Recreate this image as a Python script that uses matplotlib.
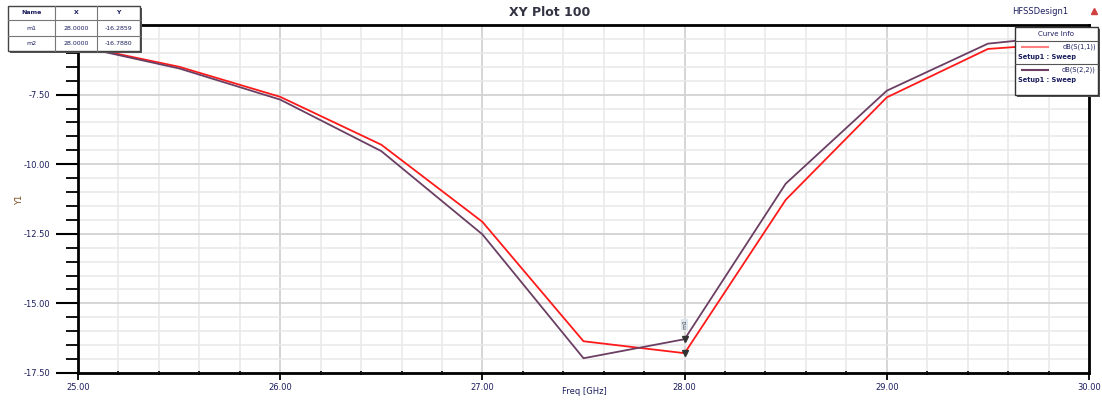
import matplotlib
matplotlib.use("Agg")
import matplotlib.pyplot as plt
from matplotlib.patches import Rectangle
from matplotlib.lines import Line2D
from matplotlib.ticker import MultipleLocator, FormatStrFormatter

# ---- data ----
freq = [25.0, 25.5, 26.0, 26.5, 27.0, 27.5, 28.0, 28.5, 29.0, 29.5, 30.0]
s11 = [-5.74, -6.50, -7.58, -9.30, -12.07, -16.36, -16.788, -11.28, -7.60, -5.86, -5.60]
s22 = [-5.76, -6.56, -7.68, -9.53, -12.52, -16.97, -16.2859, -10.70, -7.36, -5.67, -5.30]
series_names = ["dB(S(1,1))", "dB(S(2,2))"]
setup_label = "Setup1 : Sweep"
marker_names = ["m1", "m2"]
marker_x = [28.0, 28.0]
marker_y = [-16.2859, -16.7880]
title = "XY Plot 100"
design = "HFSSDesign1"
xlabel = "Freq [GHz]"
ylabel = "Y1"

red = "#ff1a1a"
purple = "#6b3f63"
navy = "#1c1f5e"

W, H = 1102, 401
fig = plt.figure(figsize=(W / 100, H / 100), dpi=100)
ax = fig.add_axes([78 / W, 1 - 373 / H, (1089 - 78) / W, (373 - 25) / H])

ax.plot(freq, s11, color=red, lw=1.3, zorder=3)
ax.plot(freq, s22, color=purple, lw=1.3, zorder=3)

ax.set_xlim(25, 30)
ax.set_ylim(-17.5, -5.0)
ax.xaxis.set_major_locator(MultipleLocator(1.0))
ax.xaxis.set_minor_locator(MultipleLocator(0.2))
ax.yaxis.set_major_locator(MultipleLocator(2.5))
ax.yaxis.set_minor_locator(MultipleLocator(0.5))
ax.xaxis.set_major_formatter(FormatStrFormatter("%.2f"))
ax.yaxis.set_major_formatter(FormatStrFormatter("%.2f"))
ax.grid(which="major", color="#d2d2d2", lw=1.3)
ax.grid(which="minor", color="#e8e8e8", lw=1.1)
ax.set_axisbelow(True)
ax.tick_params(axis="y", which="major", length=16, width=1.5, direction="out",
               labelsize=6, labelcolor=navy, pad=4)
ax.tick_params(axis="y", which="minor", length=9, width=1.3, direction="out")
ax.tick_params(axis="x", which="major", length=5, width=1.3, direction="out",
               labelsize=6, labelcolor=navy, pad=2)
ax.tick_params(axis="x", which="minor", length=3, width=1.2, direction="inout")
ax.set_yticks([-17.5, -15.0, -12.5, -10.0, -7.5])
for s in ax.spines.values():
    s.set_linewidth(2.0)
    s.set_color("black")

fig.text(20 / W, 1 - 200 / H, ylabel, fontsize=6, color="#7a4a1a", rotation=90,
         ha="center", va="center")
fig.text(550 / W, 1 - 12 / H, title, fontsize=9, fontweight="bold", color="#333344",
         ha="center", va="center")

# markers
for name, mx, my in zip(marker_names, marker_x, marker_y):
    ax.plot([mx], [my], marker="v", ms=4, color="#333333", zorder=5)
ax.text(28.0, -15.75, marker_names[0], fontsize=4.5, rotation=90, ha="center",
        va="center", color="#444444", zorder=6,
        bbox=dict(boxstyle="square,pad=0.1", fc="#dde6ee", ec="none"))

# ---- overlay in pixel coordinates ----
ov = fig.add_axes([0, 0, 1, 1], zorder=10)
ov.set_xlim(0, W)
ov.set_ylim(H, 0)
ov.axis("off")
ov.patch.set_alpha(0)

ov.text(584, 392, xlabel, fontsize=6, color=navy, ha="center", va="center")

# marker table
cols = [8, 55, 97, 140]
rows = [6, 20, 36, 51]
ov.add_patch(Rectangle((cols[0] + 2, rows[0] + 2), cols[-1] - cols[0], rows[-1] - rows[0],
                       fc="#555555", ec="none"))
ov.add_patch(Rectangle((cols[0], rows[0]), cols[-1] - cols[0], rows[-1] - rows[0],
                       fc="white", ec="#444444", lw=1.0))
for c in cols[1:-1]:
    ov.add_line(Line2D([c, c], [rows[0], rows[-1]], color="#777777", lw=0.8))
for r in rows[1:-1]:
    ov.add_line(Line2D([cols[0], cols[-1]], [r, r], color="#777777", lw=0.8))
header = ["Name", "X", "Y"]
table_rows = [header] + [[n, f"{x:.4f}", f"{y:.4f}"] for n, x, y in zip(marker_names, marker_x, marker_y)]
for ri, rowvals in enumerate(table_rows):
    yc = (rows[ri] + rows[ri + 1]) / 2
    for ci, val in enumerate(rowvals):
        xc = (cols[ci] + cols[ci + 1]) / 2
        ov.text(xc, yc, val, fontsize=4.5, color=navy, ha="center", va="center",
                fontweight="bold" if ri == 0 else "normal")

# design label
ov.text(1040, 12, design, fontsize=6, color=navy, ha="center", va="center")
ov.plot([1094], [11], marker="^", ms=5, color="#d04040")

# legend (Curve Info)
lx0, lx1, ly0, ly1 = 1015, 1098, 27, 95
ov.add_patch(Rectangle((lx0 + 2, ly0 + 2), lx1 - lx0, ly1 - ly0, fc="#555555", ec="none"))
ov.add_patch(Rectangle((lx0, ly0), lx1 - lx0, ly1 - ly0, fc="white", ec="#333333", lw=1.0))
ov.text((lx0 + lx1) / 2, 34, "Curve Info", fontsize=5, color=navy, ha="center", va="center")
for yl in [41, 64]:
    ov.add_line(Line2D([lx0, lx1], [yl, yl], color="#555555", lw=0.8))
for i, (nm, col) in enumerate(zip(series_names, ["#ff8080", purple])):
    y1 = 47 + i * 23
    ov.add_line(Line2D([1022, 1048], [y1, y1], color=col, lw=1.5))
    ov.text(1096, y1, nm, fontsize=4.8, color=navy, ha="right", va="center")
    ov.text(1018, y1 + 10, setup_label, fontsize=4.8, color=navy, ha="left", va="center",
            fontweight="bold")

fig.savefig("out.png", dpi=100)
